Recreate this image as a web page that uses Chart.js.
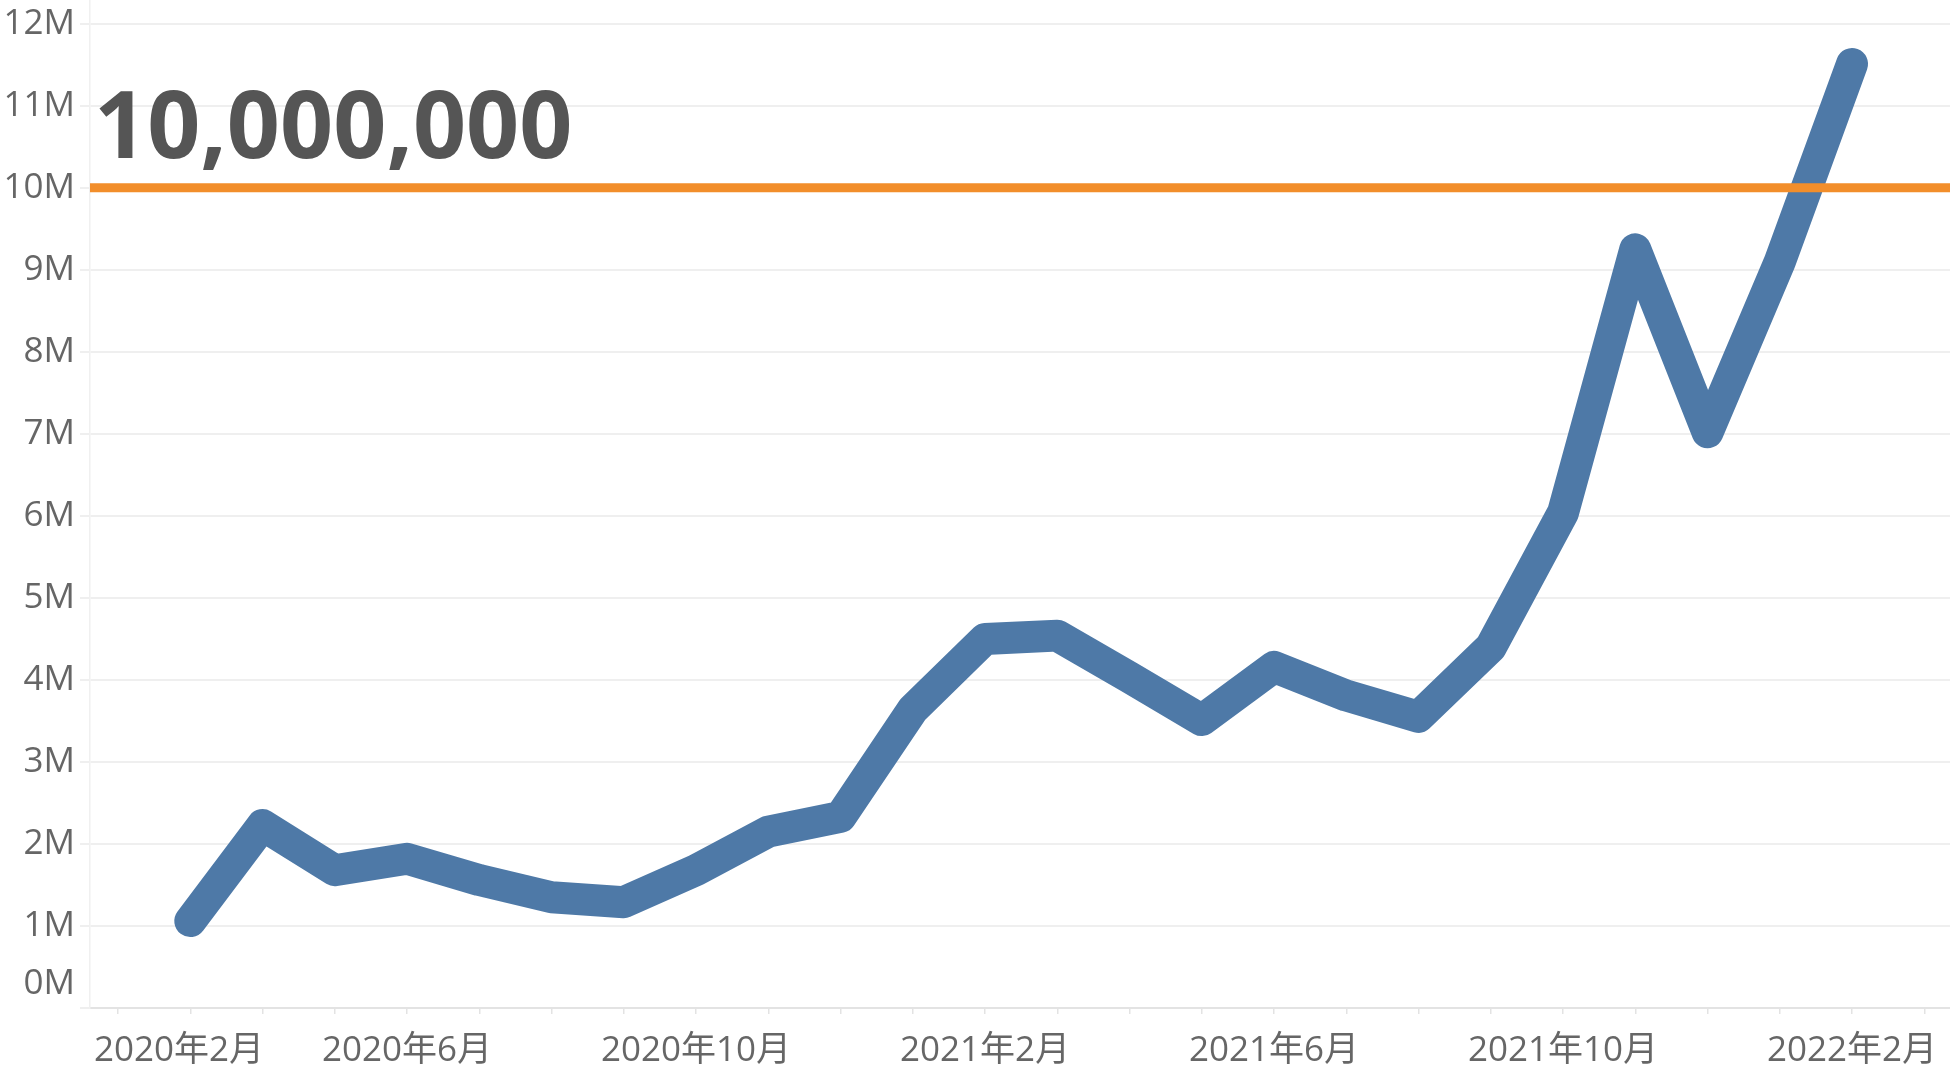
<!DOCTYPE html>
<html>
<head>
<meta charset="utf-8">
<script src="https://cdn.jsdelivr.net/npm/chart.js@4"></script>
<style>
  html, body { margin: 0; padding: 0; background: #fff; }
  canvas { display: block; }
</style>
</head>
<body>
<canvas id="chart" width="1950" height="1072"></canvas>
<script>
// monthly values (Mar 2020 - Feb 2022)
const months = [
  '2020-03', '2020-04', '2020-05', '2020-06', '2020-07', '2020-08', '2020-09', '2020-10', '2020-11', '2020-12',
  '2021-01', '2021-02', '2021-03', '2021-04', '2021-05', '2021-06', '2021-07', '2021-08', '2021-09', '2021-10', '2021-11', '2021-12',
  '2022-01', '2022-02'
];
const values = [
  1060000, 2230000, 1680000, 1820000, 1560000, 1350000, 1290000, 1680000, 2150000, 2330000,
  3640000, 4500000, 4540000, 4030000, 3510000, 4160000, 3810000, 3550000, 4400000, 6040000, 9250000, 7020000,
  9100000, 11510000
];
const targetValue = 10000000;

// axis ticks
const xTickMonths = ['2020-02', '2020-06', '2020-10', '2021-02', '2021-06', '2021-10', '2022-02'];
const yTicks = [0, 1000000, 2000000, 3000000, 4000000, 5000000, 6000000, 7000000, 8000000, 9000000, 10000000, 11000000, 12000000];

// month index counted from Jan 2020
function monthIndex(s) {
  const [y, m] = s.split('-').map(Number);
  return (y - 2020) * 12 + (m - 1);
}
function monthLabel(idx) {
  const y = 2020 + Math.floor(idx / 12);
  const m = idx % 12 + 1;
  return `${y}年${m}月`;
}

const X_MIN = 0.612, X_MAX = 26.356;
const Y_MAX = 12290000;
const labelled = new Set(xTickMonths.map(monthIndex));
const firstLabelIdx = monthIndex(xTickMonths[0]);
// Tableau keeps the first date label inside the pane, so it sits right of its tick
const FIRST_LABEL_POS = firstLabelIdx + 0.845;

const labelFont = '"Open Sans", "Noto Sans CJK JP", sans-serif';

const annotations = {
  id: 'annotations',
  afterDatasetsDraw(chart) {
    const { ctx, chartArea, scales } = chart;
    ctx.save();
    // big value above the target line
    ctx.font = `bold 93px ${labelFont}`;
    ctx.fillStyle = '#555555';
    ctx.textAlign = 'left';
    ctx.textBaseline = 'alphabetic';
    ctx.fillText(targetValue.toLocaleString('en-US'), chartArea.left + 4, scales.y.getPixelForValue(targetValue) - 30);
    // 0M label is nudged up inside the pane
    ctx.font = `35px ${labelFont}`;
    ctx.fillStyle = '#666666';
    ctx.textAlign = 'right';
    ctx.textBaseline = 'middle';
    ctx.fillText('0M', 75, scales.y.getPixelForValue(0) - 24);
    ctx.restore();
  }
};

new Chart(document.getElementById('chart'), {
  type: 'line',
  data: {
    datasets: [
      {
        data: [{ x: X_MIN, y: targetValue }, { x: X_MAX, y: targetValue }],
        borderColor: '#F28E2B',
        borderWidth: 9,
        pointRadius: 0,
        order: 0
      },
      {
        data: values.map((v, i) => ({ x: monthIndex(months[i]), y: v })),
        borderColor: '#4E79A7',
        borderWidth: 32,
        borderCapStyle: 'round',
        borderJoinStyle: 'round',
        tension: 0,
        pointRadius: 0,
        order: 1
      }
    ]
  },
  options: {
    responsive: false,
    devicePixelRatio: 1,
    animation: false,
    layout: { padding: 0 },
    plugins: { legend: { display: false }, tooltip: { enabled: false } },
    scales: {
      x: {
        type: 'linear',
        min: X_MIN,
        max: X_MAX,
        afterBuildTicks: scale => {
          const ticks = [];
          for (let i = 1; i <= 26; i++) ticks.push({ value: i });
          ticks.push({ value: FIRST_LABEL_POS });
          ticks.sort((a, b) => a.value - b.value);
          scale.ticks = ticks;
        },
        afterFit: scale => {
          scale.height = 64;
          scale.paddingLeft = 0;
          scale.paddingRight = 0;
        },
        ticks: {
          autoSkip: false,
          maxRotation: 0,
          padding: 16,
          color: '#666666',
          font: { family: labelFont, size: 35 },
          callback: value => {
            if (value === FIRST_LABEL_POS) return monthLabel(firstLabelIdx);
            if (value !== firstLabelIdx && labelled.has(value)) return monthLabel(value);
            return '';
          }
        },
        grid: {
          drawOnChartArea: false,
          drawTicks: true,
          tickLength: 6,
          lineWidth: 1.5,
          tickColor: ctx => (ctx.tick && !Number.isInteger(ctx.tick.value)) ? 'rgba(0,0,0,0)' : '#e3e3e3'
        },
        border: { color: '#e3e3e3', width: 2 }
      },
      y: {
        min: 0,
        max: Y_MAX,
        afterBuildTicks: scale => { scale.ticks = yTicks.map(v => ({ value: v })); },
        afterFit: scale => {
          scale.width = 90;
          scale.paddingTop = 0;
          scale.paddingBottom = 0;
        },
        ticks: {
          padding: 5,
          color: '#666666',
          font: { family: labelFont, size: 35 },
          callback: value => value === 0 ? '' : (value / 1000000) + 'M'
        },
        grid: {
          color: '#efefef',
          lineWidth: 2,
          tickLength: 10,
          tickColor: '#efefef'
        },
        border: { color: '#f0f0f0', width: 1.5 }
      }
    }
  },
  plugins: [annotations]
});
</script>
</body>
</html>
